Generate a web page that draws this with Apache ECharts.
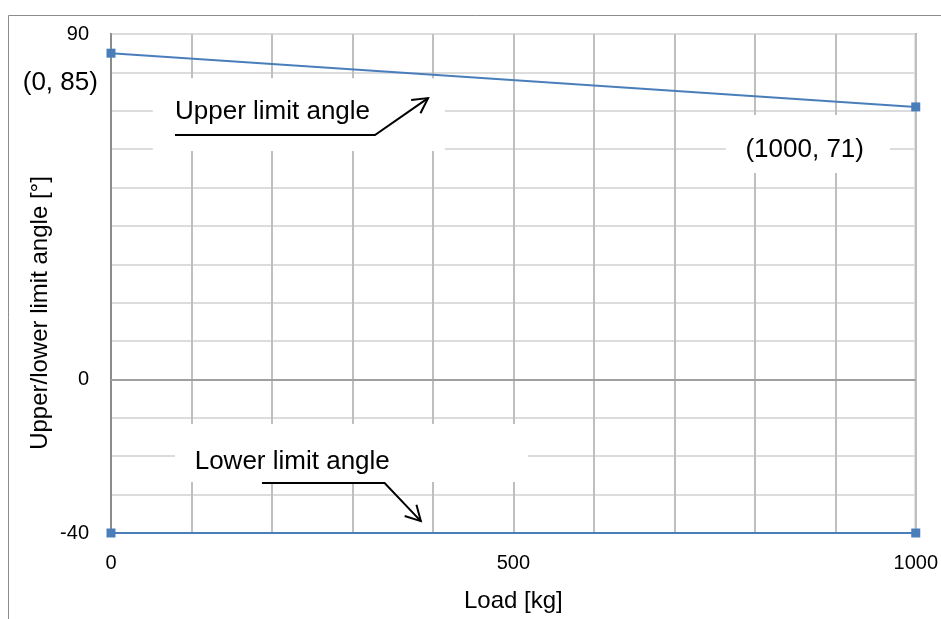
<!DOCTYPE html>
<html>
<head>
<meta charset="UTF-8">
<title>Upper/lower limit angle</title>
<script src="https://cdn.jsdelivr.net/npm/echarts@6/dist/echarts.min.js"></script>
<style>
  html, body { margin: 0; padding: 0; background: #fff; }
  #main { width: 941px; height: 619px; }
</style>
</head>
<body>
<div id="main"></div>
<script>
// data
var loadKg = [0, 1000];
var upperAngle = [85, 71];
var lowerAngle = [-40, -40];
var yTickLabels = [90, 0, -40];
var xTickLabels = [0, 500, 1000];

var FONT = '"Liberation Sans", Arial, sans-serif';
var chart = echarts.init(document.getElementById('main'));

function pairs(ys) {
  return loadKg.map(function (x, i) { return [x, ys[i]]; });
}

var option = {
  animation: false,
  grid: {
    left: 111, top: 34, right: 25, bottom: 86,
    show: true, borderColor: '#8c8c8c', borderWidth: 2
  },
  xAxis: {
    type: 'value', min: 0, max: 1000, interval: 100,
    name: 'Load [kg]', nameLocation: 'middle', nameGap: 56,
    nameTextStyle: { fontFamily: FONT, fontSize: 24, color: '#000' },
    axisLine: { show: false },
    axisTick: { show: false },
    axisLabel: {
      fontFamily: FONT, fontSize: 20, color: '#000', margin: 20,
      formatter: function (v) { return xTickLabels.indexOf(v) >= 0 ? String(v) : ''; }
    },
    splitLine: { lineStyle: { color: '#bfbfbf', width: 2 } }
  },
  yAxis: {
    type: 'value', min: -40, max: 90, interval: 10,
    axisLine: { show: true, onZero: false, lineStyle: { color: '#8c8c8c', width: 2 } },
    axisTick: { show: false },
    axisLabel: {
      fontFamily: FONT, fontSize: 20, color: '#000', margin: 22,
      formatter: function (v) { return yTickLabels.indexOf(v) >= 0 ? String(v) : ''; }
    },
    splitLine: { lineStyle: { color: '#dcdcdc', width: 2 } }
  },
  series: [
    {
      name: 'Upper limit angle', type: 'line', data: pairs(upperAngle),
      symbol: 'rect', symbolSize: 9,
      itemStyle: { color: '#4a7ebb' },
      lineStyle: { color: '#4a7ebb', width: 2 },
      markLine: {
        silent: true, symbol: 'none', label: { show: false },
        lineStyle: { color: '#a0a0a0', width: 2, type: 'solid' },
        data: [{ yAxis: 0 }]
      },
      z: 3
    },
    {
      name: 'Lower limit angle', type: 'line', data: pairs(lowerAngle),
      symbol: 'rect', symbolSize: 9,
      itemStyle: { color: '#4a7ebb' },
      lineStyle: { color: '#4a7ebb', width: 2 },
      z: 3
    }
  ]
};
chart.setOption(option);

// annotations placed in data coordinates
function p(x, y) { return chart.convertToPixel({ gridIndex: 0 }, [x, y]); }

function box(x0, y0, x1, y1) {
  var a = p(x0, y0), b = p(x1, y1);
  return {
    type: 'rect', z: 1,
    shape: { x: a[0], y: a[1], width: b[0] - a[0], height: b[1] - a[1] },
    style: { fill: '#fff' }
  };
}

function label(txt, x, y, align) {
  var a = p(x, y);
  return {
    type: 'text', z: 5, x: a[0], y: a[1],
    style: {
      text: txt, font: '26px ' + FONT, fill: '#000',
      align: align, verticalAlign: 'middle',
      textAlign: align, textVerticalAlign: 'middle'
    }
  };
}

function leader(points) {
  var pts = points.map(function (d) { return p(d[0], d[1]); });
  var tip = pts[pts.length - 1], prev = pts[pts.length - 2];
  var ang = Math.atan2(tip[1] - prev[1], tip[0] - prev[0]);
  var len = 17, spread = 0.5;
  var head = [
    [tip[0] - len * Math.cos(ang - spread), tip[1] - len * Math.sin(ang - spread)],
    tip,
    [tip[0] - len * Math.cos(ang + spread), tip[1] - len * Math.sin(ang + spread)]
  ];
  return [
    { type: 'polyline', z: 5, shape: { points: pts }, style: { stroke: '#000', lineWidth: 2, fill: null } },
    { type: 'polyline', z: 5, shape: { points: head }, style: { stroke: '#000', lineWidth: 2, fill: null } }
  ];
}

var elements = [
  {
    type: 'rect', z: 0,
    shape: { x: 8.5, y: 15.5, width: 1000, height: 700 },
    style: { fill: null, stroke: '#8c8c8c', lineWidth: 1 }
  },
  box(52, 78.5, 415, 59.5),
  box(764, 68.9, 968, 53.8),
  box(79.5, -11.6, 518, -26.7),
  label('(0, 85)', -63, 77.2, 'center'),
  label('Upper limit angle', 79.5, 69.7, 'left'),
  label('(1000, 71)', 862, 59.8, 'center'),
  label('Lower limit angle', 104, -21.5, 'left'),
  {
    type: 'text', z: 5, x: 40, y: 313, rotation: Math.PI / 2,
    style: {
      text: 'Upper/lower limit angle [°]', font: '24px ' + FONT, fill: '#000',
      align: 'center', verticalAlign: 'middle',
      textAlign: 'center', textVerticalAlign: 'middle'
    }
  }
];
elements = elements
  .concat(leader([[79.5, 63.7], [328, 63.7], [394, 73.3]]))
  .concat(leader([[187.6, -27], [340, -27], [385, -36.9]]));

chart.setOption({ graphic: { elements: elements } });
</script>
</body>
</html>
